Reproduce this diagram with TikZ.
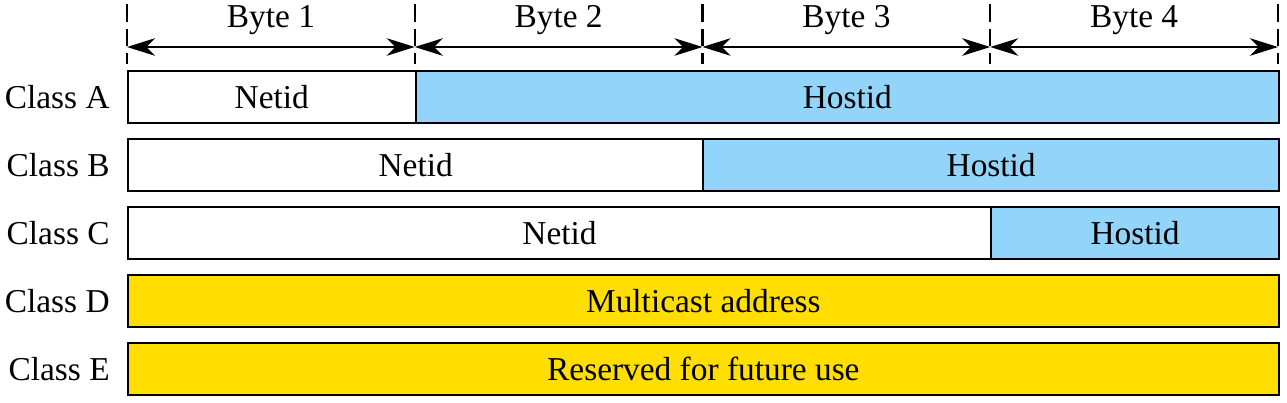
\documentclass[tikz,border=0pt]{standalone}
\usepackage{xcolor}
\usepackage{fontspec}
\setmainfont{Liberation Serif}
\definecolor{hostblue}{RGB}{146, 212, 250}
\definecolor{classyellow}{RGB}{255, 222, 0}
\usetikzlibrary{arrows.meta, positioning}

\begin{document}
\begin{tikzpicture}[x=0.02cm, y=-0.02cm,
    field/.style={rectangle, draw=black, line width=1.1pt, minimum height=1.04cm, inner sep=0pt, font=\fontsize{19}{22}\selectfont, anchor=west},
    classlabel/.style={anchor=east, inner sep=0pt, font=\fontsize{19}{22}\selectfont},
    bytelabel/.style={inner sep=0pt, font=\fontsize{19}{22}\selectfont},
    bound/.style={dash pattern=on 10pt off 4pt, line width=1.2pt},
    span/.style={{Stealth[length=16pt, width=10pt, inset=5pt]}-{Stealth[length=16pt, width=10pt, inset=5pt]}, line width=1pt}
]
    \useasboundingbox (0,0) rectangle (1287,402);

    % Byte boundaries
    \foreach \i/\x in {0/127, 1/414.75, 2/702.5, 3/990.25, 4/1278} {
        \coordinate (top\i) at (\x,4);
        \coordinate (bot\i) at (\x,64);
        \coordinate (b\i) at (\x,47);
        \draw[bound] (top\i) -- (bot\i);
    }
    \foreach \i/\j in {0/1, 1/2, 2/3, 3/4}
        \draw[span] (b\i) -- (b\j);

    % Byte labels
    \node[bytelabel] (byte1) at (270.9,20) {Byte 1};
    \node[bytelabel] (byte2) at (558.6,20) {Byte 2};
    \node[bytelabel] (byte3) at (846.4,20) {Byte 3};
    \node[bytelabel] (byte4) at (1134.1,20) {Byte 4};

    % Class A
    \node[classlabel] (lblA) at (110,97) {Class A};
    \node[field, minimum width=5.755cm] (netA) at (127,97) {Netid};
    \node[field, fill=hostblue, minimum width=17.265cm] (hostA) at (414.75,97) {Hostid};

    % Class B
    \node[classlabel] (lblB) at (110,165) {Class B};
    \node[field, minimum width=11.51cm] (netB) at (127,165) {Netid};
    \node[field, fill=hostblue, minimum width=11.51cm] (hostB) at (702.5,165) {Hostid};

    % Class C
    \node[classlabel] (lblC) at (110,233) {Class C};
    \node[field, minimum width=17.265cm] (netC) at (127,233) {Netid};
    \node[field, fill=hostblue, minimum width=5.755cm] (hostC) at (990.25,233) {Hostid};

    % Class D
    \node[classlabel] (lblD) at (110,301) {Class D};
    \node[field, fill=classyellow, minimum width=23.02cm] (multiD) at (127,301) {Multicast address};

    % Class E
    \node[classlabel] (lblE) at (110,369) {Class E};
    \node[field, fill=classyellow, minimum width=23.02cm] (resE) at (127,369) {Reserved for future use};
\end{tikzpicture}
\end{document}
